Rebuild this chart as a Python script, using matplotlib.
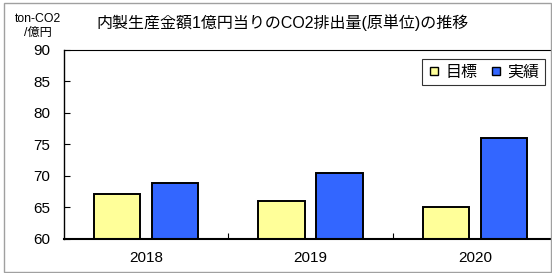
import matplotlib
matplotlib.use("Agg")
import matplotlib.pyplot as plt
from matplotlib.patches import Rectangle
from matplotlib.lines import Line2D
import numpy as np

plt.rcParams['font.family'] = ['Liberation Sans', 'Noto Sans CJK JP', 'DejaVu Sans']

years = ["2018", "2019", "2020"]
target = [67.1, 66.0, 65.0]
actual = [68.8, 70.5, 76.0]
series_names = ["目標", "実績"]
title = "内製生産金額1億円当りのCO2排出量(原単位)の推移"
unit_label = "ton-CO2\n/億円"

c_target = "#FFFF99"
c_actual = "#3366FF"

W, H = 552, 273
fig = plt.figure(figsize=(W / 100, H / 100), dpi=100)
fig.patch.set_facecolor("white")

# outer gray frame
fig.patches.append(Rectangle((4 / W, 1 - 272 / H), (551 - 4) / W, (272 - 3) / H,
                             transform=fig.transFigure, fill=False,
                             edgecolor="#A0A0A0", linewidth=1.0))

ax = fig.add_axes([64 / W, 1 - 239 / H, (557 - 64) / W, (239 - 49.5) / H])
x = np.arange(len(years))
bw = 0.28
off = 0.1765
ax.bar(x - off, [t - 60 for t in target], bottom=60, width=bw, color=c_target,
       edgecolor="black", linewidth=1.4)
ax.bar(x + off, [a - 60 for a in actual], bottom=60, width=bw, color=c_actual,
       edgecolor="black", linewidth=1.4)

ax.set_ylim(60, 90)
ax.set_xlim(-0.5, len(years) - 0.5)
ax.set_yticks(np.arange(60, 91, 5))
ax.tick_params(axis='y', direction='in', length=4, labelsize=11, pad=10, width=0.8)
ax.set_xticks(x)
ax.set_xticklabels(years)
ax.tick_params(axis='x', which='major', length=0, labelsize=11, pad=9)
ax.set_xticks(np.arange(0.5, len(years) - 0.5, 1.0), minor=True)
ax.tick_params(axis='x', which='minor', direction='in', length=4, width=0.8)
for s in ['top', 'right']:
    ax.spines[s].set_linewidth(0.8)
ax.spines['left'].set_linewidth(1.0)
ax.spines['bottom'].set_linewidth(1.5)

handles = [Line2D([], [], marker='s', linestyle='none', markersize=5.5,
                  markerfacecolor=c, markeredgecolor='black', markeredgewidth=1.0)
           for c in (c_target, c_actual)]
leg = ax.legend(handles, series_names, loc='upper right', ncol=2,
                bbox_to_anchor=((545 - 64) / (557 - 64), (239 - 59) / (239 - 49.5)),
                frameon=True, fancybox=False, edgecolor='black', fontsize=11.5,
                handlelength=0.8, handletextpad=0.3, columnspacing=0.8,
                borderpad=0.35, borderaxespad=0)
leg.get_frame().set_linewidth(0.8)

fig.text(283 / W, 1 - 23 / H, title, ha='center', va='center', fontsize=11.5)
fig.text(38 / W, 1 - 26 / H, unit_label, ha='center', va='center', fontsize=8.8,
         linespacing=1.25)

fig.savefig("out.png", dpi=100)
